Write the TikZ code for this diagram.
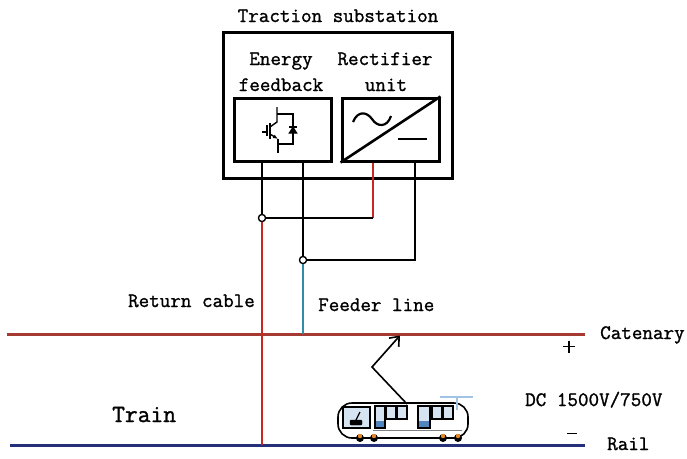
\documentclass[tikz,border=0pt]{standalone}
\usepackage{fontspec}
\newfontfamily\labelfont[FakeBold=1.2]{Latin Modern Mono}
\usetikzlibrary{arrows.meta,calc}
\definecolor{catenaryc}{RGB}{164,58,50}
\definecolor{railc}{RGB}{38,48,122}
\definecolor{returnc}{RGB}{200,40,30}
\definecolor{feederc}{RGB}{50,140,165}
\definecolor{glass}{RGB}{214,228,242}
\definecolor{doorblue}{RGB}{82,132,190}
\definecolor{wheelc}{RGB}{225,135,40}
\definecolor{pantoc}{RGB}{160,195,230}
\begin{document}
\begin{tikzpicture}[x=1pt,y=-1pt,
  lbl/.style={font=\fontsize{20.5}{22}\selectfont\labelfont, inner sep=0pt},
  biglbl/.style={font=\fontsize{24.8}{26}\selectfont\labelfont, inner sep=0pt},
  box/.style={draw, line width=3pt, minimum width=#1, minimum height=63pt, inner sep=0pt},
  outerbox/.style={draw, line width=3pt, minimum width=229pt, minimum height=146pt, inner sep=0pt},
  wire/.style={line width=2pt},
  junction/.style={circle, draw, fill=white, line width=1.2pt, minimum size=7pt, inner sep=0pt},
  symb/.style={line width=1.4pt},
  tw/.style={draw=black, line width=1.3pt}]
\useasboundingbox (0,0) rectangle (687,458);

% substation and its two converter units
\node[outerbox] (sub) at (337.5,105) {};
\node[box=97pt] (en) at (282.5,129.5) {};
\node[box=97pt] (rc) at (390.5,129.5) {};

\node[lbl, anchor=base] (title) at (338,22) {Traction substation};
\node[lbl, anchor=base] (enA) at (281,65) {Energy};
\node[lbl, anchor=base] (enB) at (281,91) {feedback};
\node[lbl, anchor=base] (rcA) at (385,65) {Rectifier};
\node[lbl, anchor=base] (rcB) at (386,91) {unit};

% IGBT with anti-parallel diode
\draw[symb] (262,132) -- (267,132);
\draw[line width=2pt] (267,125) -- (267,136);
\draw[line width=2pt] (270,123) -- (270,139);
\draw[symb] (270,127) -- (277,122) -- (277,107);
\draw[symb] (277,114) -- (293,114) -- (293,144) -- (278,144);
\draw[symb, -{Latex[length=5pt,width=4pt]}] (270,134) -- (278,139);
\draw[symb] (278,139) -- (278,153);
\draw[symb] (289,127) -- (297,127);
\draw[symb, fill=black] (289.5,133) -- (296.5,133) -- (293,127.5) -- cycle;

% rectifier symbol
\draw[line width=2.6pt] (rc.south west) -- (rc.north east);
\draw[line width=2.2pt] (353,122) .. controls (358,110) and (367,112) .. (372,119)
  .. controls (377,127) and (387,128) .. (391,116);
\draw[line width=2.6pt] (398,139) -- (427,139);

% contact line and running rail
\coordinate (catL) at (7,334);
\coordinate (catR) at (585,334);
\coordinate (railL) at (10,445);
\coordinate (railR) at (585,445);
\draw[catenaryc, line width=3pt] (catL) -- (catR);
\draw[railc, line width=3pt] (railL) -- (railR);

% junctions and cabling
\node[junction] (j1) at (262,218) {};
\node[junction] (j2) at (303,260) {};
\coordinate (r1) at (373,218);
\coordinate (r2) at (415,260);
\draw[wire] (en.south -| j1) -- (j1);
\draw[wire] (en.south -| j2) -- (j2);
\draw[wire, returnc] (rc.south -| r1) -- (r1);
\draw[wire] (r1) -- (j1);
\draw[wire] (rc.south -| r2) -- (r2) -- (j2);
\draw[wire, returnc] (j1) -- (j1 |- railL);
\draw[wire, feederc] (j2) -- (j2 |- catL);
\node[junction] at (j1) {};
\node[junction] at (j2) {};

% labels
\node[lbl, anchor=base east] (ret) at (255,307) {Return cable};
\node[lbl, anchor=base west] (fed) at (318,311) {Feeder line};
\node[lbl, anchor=base west] (cat) at (600,339) {Catenary};
\node[lbl, anchor=base west] (rail) at (607,450) {Rail};
\node[lbl, anchor=base west] (dc) at (525,406) {DC 1500V/750V};
\node[biglbl, anchor=base west] (trn) at (112,422) {Train};
\draw[line width=1.2pt] (563,346.5) -- (575,346.5) (569,340.5) -- (569,352.5);
\draw[line width=1pt] (567,433) -- (577,433);

% train
\node[draw, line width=1.6pt, rounded corners=14pt, minimum width=130pt, minimum height=35pt, inner sep=0pt] (train) at (403,420.5) {};
\draw[pantoc, line width=1.6pt] (440,397) -- (473,397);
\draw[pantoc, line width=1.6pt] (457,397) -- (457,410);
\draw[tw, fill=glass] (343,407) rectangle (370,428);
\draw[fill=black, rounded corners=1pt] (350,420) rectangle (362,425);
\draw[line width=1.2pt] (356,420) -- (360,412);
\draw[gray, line width=1pt] (373,430) -- (462,430);
\draw[tw, fill=glass] (375,406) rectangle (385,428);
\fill[doorblue] (375.7,421) rectangle (384.3,427.3);
\draw[tw, fill=glass] (386,406) rectangle (396,419);
\draw[tw, fill=glass] (397,406) rectangle (407,419);
\draw[tw, fill=glass] (418,406) rectangle (430,428);
\fill[doorblue] (418.7,421) rectangle (429.3,427.3);
\draw[tw, fill=glass] (432,406) rectangle (442,419);
\draw[tw, fill=glass] (443,406) rectangle (453,419);
\foreach \wx in {360,374,443,458}{
  \fill[black] (\wx,438) circle (4);
  \fill[wheelc] (\wx,436) circle (2.2);
}

% pantograph
\coordinate (pbase) at (407,404);
\coordinate (pkink) at (372,367);
\coordinate (ptip) at (400,335.5);
\draw[line width=1.6pt, -{Straight Barb[length=8pt,width=13pt]}] (pbase) -- (pkink) -- (ptip);
\end{tikzpicture}
\end{document}
